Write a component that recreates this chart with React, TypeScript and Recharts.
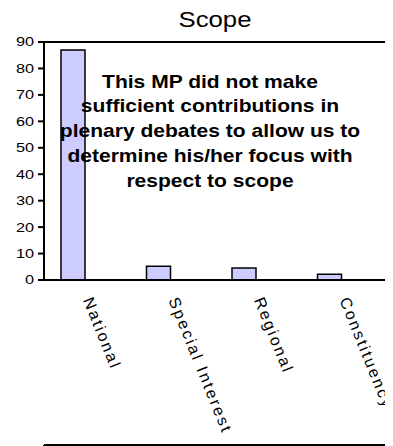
import React from 'react';
import { BarChart, Bar, XAxis, YAxis, ReferenceLine } from 'recharts';

const categories = ['National', 'Special Interest', 'Regional', 'Constituency'];
const scopeValues = [87, 5.2, 4.5, 2.2];
const emptySeries = [null, null, null, null];
const yTicks = [0, 10, 20, 30, 40, 50, 60, 70, 80, 90];
const boundaryTicks = [0, 1, 2, 3, 4];
const titleText = 'Scope';
const noteLines = [
  'This MP did not make',
  'sufficient contributions in',
  'plenary debates to allow us to',
  'determine his/her focus with',
  'respect to scope',
];

const data = categories.map((name, i) => ({ name, value: scopeValues[i], other: emptySeries[i] }));

const FONT = '"Liberation Sans", Arial, sans-serif';

const YTick = (props: any) => {
  const { x, y, payload } = props;
  const tx = x - 2;
  const ty = y + 4.5;
  return (
    <text
      x={tx}
      y={ty}
      textAnchor="end"
      fontSize={13}
      fontFamily={FONT}
      fill="#000"
      stroke="none"
      transform={`translate(${tx} ${ty}) scale(1.25 1) translate(${-tx} ${-ty})`}
    >
      {payload.value}
    </text>
  );
};

const XTick = (props: any) => {
  const { x, y, payload } = props;
  const tx = x - 4;
  const ty = y + 12;
  return (
    <text
      x={tx}
      y={ty}
      textAnchor="start"
      fontSize={16}
      letterSpacing={2.2}
      fontFamily={FONT}
      fill="#000"
      stroke="none"
      transform={`rotate(68 ${tx} ${ty})`}
    >
      {payload.value}
    </text>
  );
};

export default function App() {
  return (
    <div>
      <BarChart width={385} height={438} data={data} margin={{ top: 33, right: 7, left: 0, bottom: 0 }}>
        <XAxis
          xAxisId="top"
          orientation="top"
          dataKey="name"
          height={1}
          tick={false}
          tickLine={false}
          stroke="#000"
          strokeWidth={2}
        />
        <XAxis
          xAxisId="grid"
          type="number"
          domain={[0, 4]}
          allowDataOverflow
          ticks={boundaryTicks}
          height={1}
          tickFormatter={() => ''}
          stroke="#000"
          strokeWidth={2}
        />
        <XAxis
          dataKey="name"
          height={165}
          interval={0}
          axisLine={false}
          tickLine={false}
          tick={<XTick />}
        />
        <YAxis
          width={36}
          domain={[0, 90]}
          ticks={yTicks}
          stroke="#000"
          strokeWidth={2}
          tick={<YTick />}
        />
        <ReferenceLine xAxisId="grid" x={0} stroke="#000" strokeWidth={2} ifOverflow="visible" />
        <ReferenceLine xAxisId="grid" x={4} stroke="#000" strokeWidth={2} ifOverflow="visible" />
        <ReferenceLine y={0} stroke="#000" strokeWidth={2} ifOverflow="visible" />
        <Bar dataKey="value" barSize={24} fill="#CCCCFF" stroke="#000" strokeWidth={1.5} isAnimationActive={false} />
        <Bar dataKey="other" barSize={24} fill="#993366" stroke="#000" strokeWidth={1.5} isAnimationActive={false} />
      </BarChart>
      <div
        style={{
          position: 'absolute',
          left: 0,
          top: 0,
          width: 393,
          height: 446,
          pointerEvents: 'none',
          fontFamily: FONT,
          color: '#000',
        }}
      >
        <div
          style={{
            position: 'absolute',
            left: 0,
            top: 8.7,
            width: 430,
            textAlign: 'center',
            fontSize: 22,
            lineHeight: '22px',
            whiteSpace: 'nowrap',
            transform: 'scaleX(1.17)',
            transformOrigin: '215px 0',
          }}
        >
          {titleText}
        </div>
        {noteLines.map((line, i) => (
          <div
            key={i}
            style={{
              position: 'absolute',
              left: 0,
              top: 69.5 + i * 24.75,
              width: 420,
              textAlign: 'center',
              fontSize: 18.5,
              fontWeight: 'bold',
              lineHeight: '24.75px',
              whiteSpace: 'nowrap',
              transform: 'scaleX(1.137)',
              transformOrigin: '210px 0',
            }}
          >
            {line}
          </div>
        ))}
      </div>
    </div>
  );
}
